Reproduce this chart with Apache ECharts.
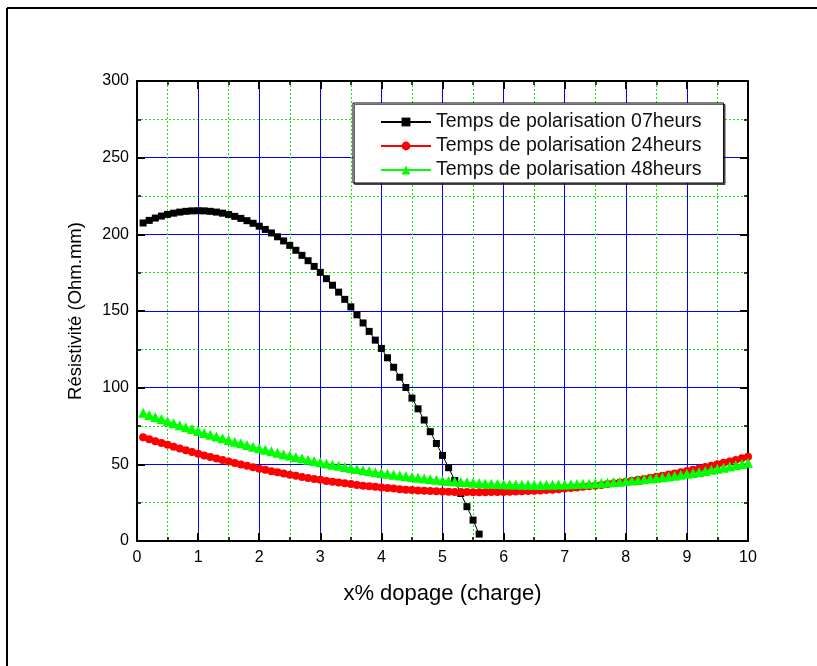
<!DOCTYPE html>
<html>
<head>
<meta charset="utf-8">
<script src="https://cdn.jsdelivr.net/npm/echarts@6/dist/echarts.min.js"></script>
<style>html,body{margin:0;padding:0;background:#fff;overflow:hidden}#c{width:817px;height:666px}</style>
</head>
<body>
<div id="c"></div>
<script>
var xs = [0.1,0.2,0.3,0.4,0.5,0.6,0.7,0.8,0.9,1.0,1.1,1.2,1.3,1.4,1.5,1.6,1.7,1.8,1.9,2.0,2.1,2.2,2.3,2.4,2.5,2.6,2.7,2.8,2.9,3.0,3.1,3.2,3.3,3.4,3.5,3.6,3.7,3.8,3.9,4.0,4.1,4.2,4.3,4.4,4.5,4.6,4.7,4.8,4.9,5.0,5.1,5.2,5.3,5.4,5.5,5.6,5.7,5.8,5.9,6.0,6.1,6.2,6.3,6.4,6.5,6.6,6.7,6.8,6.9,7.0,7.1,7.2,7.3,7.4,7.5,7.6,7.7,7.8,7.9,8.0,8.1,8.2,8.3,8.4,8.5,8.6,8.7,8.8,8.9,9.0,9.1,9.2,9.3,9.4,9.5,9.6,9.7,9.8,9.9,10.0];
var seriesNames = ["Temps de polarisation 07heurs","Temps de polarisation 24heurs","Temps de polarisation 48heurs"];
var black07 = [207.4,209.1,210.6,211.9,213.0,213.8,214.5,215.0,215.3,215.4,215.3,215.0,214.5,213.8,212.9,211.7,210.4,208.9,207.2,205.3,203.2,200.9,198.4,195.7,192.8,189.6,186.3,182.8,179.1,175.2,171.1,166.8,162.3,157.6,152.7,147.5,142.2,136.7,131.0,125.6,119.5,113.3,106.8,100.1,93.2,86.2,78.9,71.3,63.6,55.8,47.8,39.5,31.0,22.4,13.6,4.5];
var red24 = [67.7,66.4,65.1,63.9,62.7,61.5,60.3,59.2,58.0,56.9,55.8,54.8,53.8,52.8,51.8,50.8,49.9,49.0,48.1,47.2,46.4,45.5,44.8,44.0,43.2,42.5,41.8,41.1,40.5,39.9,39.2,38.7,38.1,37.6,37.1,36.6,36.1,35.7,35.3,34.9,34.5,34.2,33.8,33.5,33.3,33.0,32.8,32.6,32.4,32.3,32.1,32.0,31.9,31.9,31.8,31.8,31.8,31.9,31.9,32.0,32.1,32.3,32.4,32.6,32.8,33.0,33.3,33.5,33.8,34.2,34.5,34.9,35.3,35.7,36.1,36.6,37.1,37.6,38.2,38.7,39.3,39.9,40.5,41.2,41.9,42.6,43.3,44.1,44.9,45.7,46.5,47.3,48.2,49.1,50.0,51.0,51.9,52.9,54.0,55.0];
var green48 = [83.6,82.2,80.8,79.5,78.1,76.8,75.5,74.2,73.0,71.7,70.5,69.3,68.2,67.0,65.9,64.8,63.7,62.6,61.5,60.5,59.5,58.5,57.5,56.6,55.7,54.8,53.9,53.0,52.2,51.4,50.6,49.8,49.0,48.3,47.6,46.9,46.2,45.6,44.9,44.3,43.8,43.2,42.7,42.2,41.7,41.2,40.7,40.3,39.9,39.5,39.2,38.9,38.5,38.3,38.0,37.8,37.5,37.3,37.2,37.0,36.9,36.8,36.7,36.7,36.6,36.6,36.7,36.7,36.8,36.8,37.0,37.1,37.3,37.4,37.7,37.9,38.2,38.4,38.7,39.1,39.4,39.8,40.2,40.7,41.1,41.6,42.1,42.6,43.2,43.8,44.4,45.0,45.7,46.4,47.1,47.8,48.6,49.4,50.2,51.0];
var xTicks = {min:0, max:10, interval:1};
var yTicks = {min:0, max:300, interval:50};
var xTitle = "x% dopage (charge)";
var yTitle = "Résistivité (Ohm.mm)";

function pairs(vals){ return vals.map(function(v,i){ return [xs[i], v]; }); }

var FONT = "'Liberation Sans', Arial, sans-serif";
function axisBase(isX, main){
  var t = isX ? xTicks : yTicks;
  return {
    type:'value', min:t.min, max:t.max, interval:t.interval,
    position: isX ? (main?'bottom':'top') : (main?'left':'right'),
    axisLine:{show:true, onZero:false, lineStyle:{color:'#000', width:2}},
    axisTick:{show:true, inside:true, length:8, lineStyle:{color:'#000', width:2}},
    minorTick:{show:true, splitNumber:2, length:4, lineStyle:{color:'#000', width:1.5}},
    axisLabel:{show:main, color:'#000', fontSize:16, fontFamily:FONT, margin:main?(isX?9:8):0},
    splitLine:{show:main, showMinLine:false, showMaxLine:false, lineStyle:{color:'#0000ff', width:1}},
    minorSplitLine:{show:main, lineStyle:{color:'#00ee00', width:1, type:[2,2]}},
    name: main ? (isX?xTitle:yTitle) : '',
    nameLocation:'middle',
    nameGap: isX ? 42 : 52,
    nameTextStyle:{color:'#000', fontSize: isX ? 22 : 18.5, fontFamily:FONT},
    z: main ? 3 : 4
  };
}

var chart = echarts.init(document.getElementById('c'), null, {renderer:'canvas'});
chart.setOption({
  backgroundColor:'#fff',
  animation:false,
  graphic:[
    {type:'line', shape:{x1:7, y1:8, x2:817, y2:8}, style:{stroke:'#000', lineWidth:2}, z:-1},
    {type:'line', shape:{x1:7, y1:8, x2:7, y2:666}, style:{stroke:'#000', lineWidth:2}, z:-1}
  ],
  grid:{left:137, right:69, top:81, bottom:125, show:false},
  xAxis:[axisBase(true,true), axisBase(true,false)],
  yAxis:[axisBase(false,true), axisBase(false,false)],
  legend:{
    orient:'vertical', left:353, top:103,
    backgroundColor:'#fff', borderColor:'#000', borderWidth:1,
    shadowColor:'rgba(0,0,0,0.6)', shadowOffsetX:1.5, shadowOffsetY:1.5, shadowBlur:0,
    padding:[9,22,3,27], itemGap:4, itemWidth:50, itemHeight:11,
    textStyle:{color:'#111', fontSize:19.5, fontFamily:FONT},
    data: seriesNames
  },
  series:[
    {name:seriesNames[0], type:'line', data:pairs(black07), symbol:'rect', symbolSize:7, showAllSymbol:true,
     itemStyle:{color:'#000'}, lineStyle:{color:'#000', width:1}, z:5},
    {name:seriesNames[1], type:'line', data:pairs(red24), symbol:'circle', symbolSize:8, showAllSymbol:true,
     itemStyle:{color:'#ff0000'}, lineStyle:{color:'#ff0000', width:1}, z:5},
    {name:seriesNames[2], type:'line', data:pairs(green48), symbol:'triangle', symbolSize:10, showAllSymbol:true,
     itemStyle:{color:'#00ff00'}, lineStyle:{color:'#00ff00', width:1}, z:5}
  ]
});
</script>
</body>
</html>
